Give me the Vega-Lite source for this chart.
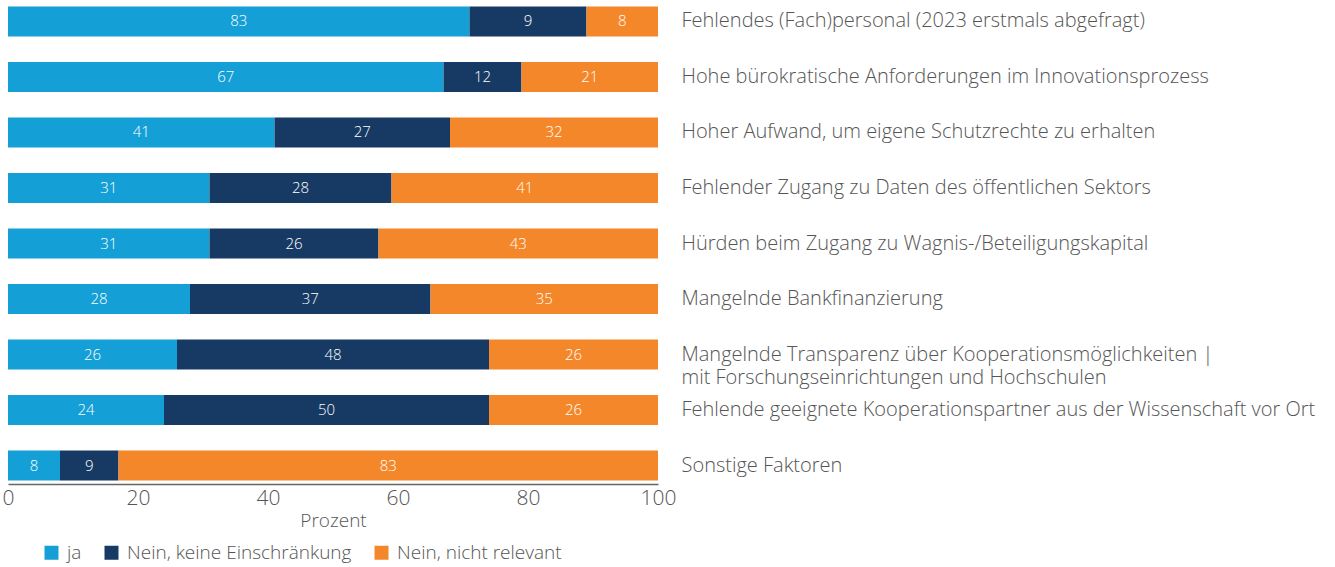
{
  "$schema": "https://vega.github.io/schema/vega-lite/v6.json",
  "width": 650,
  "height": 481,
  "autosize": {"type": "none"},
  "padding": {"left": 8, "top": 3, "right": 677, "bottom": 83},
  "background": "white",
  "config": {"view": {"stroke": null}, "font": "Open Sans"},
  "data": {"values": [
    {"cat": "Fehlendes (Fach)personal (2023 erstmals abgefragt)", "answer": "ja", "k": 1, "pct": 71, "label": "83"},
    {"cat": "Fehlendes (Fach)personal (2023 erstmals abgefragt)", "answer": "Nein, keine Einschränkung", "k": 2, "pct": 18, "label": "9"},
    {"cat": "Fehlendes (Fach)personal (2023 erstmals abgefragt)", "answer": "Nein, nicht relevant", "k": 3, "pct": 11, "label": "8"},
    {"cat": "Hohe bürokratische Anforderungen im Innovationsprozess", "answer": "ja", "k": 1, "pct": 67, "label": "67"},
    {"cat": "Hohe bürokratische Anforderungen im Innovationsprozess", "answer": "Nein, keine Einschränkung", "k": 2, "pct": 12, "label": "12"},
    {"cat": "Hohe bürokratische Anforderungen im Innovationsprozess", "answer": "Nein, nicht relevant", "k": 3, "pct": 21, "label": "21"},
    {"cat": "Hoher Aufwand, um eigene Schutzrechte zu erhalten", "answer": "ja", "k": 1, "pct": 41, "label": "41"},
    {"cat": "Hoher Aufwand, um eigene Schutzrechte zu erhalten", "answer": "Nein, keine Einschränkung", "k": 2, "pct": 27, "label": "27"},
    {"cat": "Hoher Aufwand, um eigene Schutzrechte zu erhalten", "answer": "Nein, nicht relevant", "k": 3, "pct": 32, "label": "32"},
    {"cat": "Fehlender Zugang zu Daten des öffentlichen Sektors", "answer": "ja", "k": 1, "pct": 31, "label": "31"},
    {"cat": "Fehlender Zugang zu Daten des öffentlichen Sektors", "answer": "Nein, keine Einschränkung", "k": 2, "pct": 28, "label": "28"},
    {"cat": "Fehlender Zugang zu Daten des öffentlichen Sektors", "answer": "Nein, nicht relevant", "k": 3, "pct": 41, "label": "41"},
    {"cat": "Hürden beim Zugang zu Wagnis-/Beteiligungskapital", "answer": "ja", "k": 1, "pct": 31, "label": "31"},
    {"cat": "Hürden beim Zugang zu Wagnis-/Beteiligungskapital", "answer": "Nein, keine Einschränkung", "k": 2, "pct": 26, "label": "26"},
    {"cat": "Hürden beim Zugang zu Wagnis-/Beteiligungskapital", "answer": "Nein, nicht relevant", "k": 3, "pct": 43, "label": "43"},
    {"cat": "Mangelnde Bankfinanzierung", "answer": "ja", "k": 1, "pct": 28, "label": "28"},
    {"cat": "Mangelnde Bankfinanzierung", "answer": "Nein, keine Einschränkung", "k": 2, "pct": 37, "label": "37"},
    {"cat": "Mangelnde Bankfinanzierung", "answer": "Nein, nicht relevant", "k": 3, "pct": 35, "label": "35"},
    {"cat": "Mangelnde Transparenz über Kooperationsmöglichkeiten |\nmit Forschungseinrichtungen und Hochschulen", "answer": "ja", "k": 1, "pct": 26, "label": "26"},
    {"cat": "Mangelnde Transparenz über Kooperationsmöglichkeiten |\nmit Forschungseinrichtungen und Hochschulen", "answer": "Nein, keine Einschränkung", "k": 2, "pct": 48, "label": "48"},
    {"cat": "Mangelnde Transparenz über Kooperationsmöglichkeiten |\nmit Forschungseinrichtungen und Hochschulen", "answer": "Nein, nicht relevant", "k": 3, "pct": 26, "label": "26"},
    {"cat": "Fehlende geeignete Kooperationspartner aus der Wissenschaft vor Ort", "answer": "ja", "k": 1, "pct": 24, "label": "24"},
    {"cat": "Fehlende geeignete Kooperationspartner aus der Wissenschaft vor Ort", "answer": "Nein, keine Einschränkung", "k": 2, "pct": 50, "label": "50"},
    {"cat": "Fehlende geeignete Kooperationspartner aus der Wissenschaft vor Ort", "answer": "Nein, nicht relevant", "k": 3, "pct": 26, "label": "26"},
    {"cat": "Sonstige Faktoren", "answer": "ja", "k": 1, "pct": 8, "label": "8"},
    {"cat": "Sonstige Faktoren", "answer": "Nein, keine Einschränkung", "k": 2, "pct": 9, "label": "9"},
    {"cat": "Sonstige Faktoren", "answer": "Nein, nicht relevant", "k": 3, "pct": 83, "label": "83"}
  ]},
  "transform": [
    {"stack": "pct", "groupby": ["cat"], "sort": [{"field": "k", "order": "ascending"}], "as": ["v0", "v1"]}
  ],
  "encoding": {
    "y": {
      "field": "cat", "type": "nominal", "sort": null,
      "scale": {"paddingInner": 0.46, "paddingOuter": 0.063},
      "axis": {
        "orient": "right", "title": null, "domain": false, "ticks": false,
        "labelAlign": "left", "labelPadding": 23, "labelFontSize": 20, "labelFontWeight": 300,
        "labelColor": "#555555", "labelLimit": 700, "labelLineHeight": 23,
        "labelExpr": "split(datum.label, '\\n')"
      }
    }
  },
  "layer": [
    {
      "mark": {"type": "bar"},
      "encoding": {
        "x": {
          "field": "v0", "type": "quantitative",
          "scale": {"domain": [0, 100], "nice": false},
          "axis": {
            "values": [0, 20, 40, 60, 80, 100], "grid": false, "ticks": false,
            "domainColor": "#666666", "domainWidth": 1.5,
            "labelFontSize": 21, "labelFontWeight": 300, "labelColor": "#555555", "labelPadding": 3,
            "labelFlush": false,
            "title": "Prozent", "titleFontSize": 19, "titleFontWeight": 300,
            "titleColor": "#555555", "titlePadding": 3
          }
        },
        "x2": {"field": "v1"},
        "color": {
          "field": "answer", "type": "nominal",
          "scale": {
            "domain": ["ja", "Nein, keine Einschränkung", "Nein, nicht relevant"],
            "range": ["#149fd6", "#163a64", "#f5872b"]
          },
          "legend": {
            "orient": "none", "legendX": 34, "legendY": 540, "direction": "horizontal",
            "title": null, "symbolType": "square", "symbolSize": 196,
            "symbolStrokeWidth": 0, "labelFontSize": 19, "labelFontWeight": 300, "labelColor": "#555555",
            "labelLimit": 400, "columnPadding": 20, "labelOffset": 6
          }
        }
      }
    },
    {
      "transform": [
        {"fold": ["v0", "v1"], "as": ["edge", "pos"]}
      ],
      "mark": {"type": "text", "color": "white", "fontSize": 15, "fontWeight": 300, "baseline": "middle", "align": "center"},
      "encoding": {
        "x": {"field": "pos", "type": "quantitative", "aggregate": "mean"},
        "text": {"field": "label"},
        "detail": {"field": "answer"}
      }
    },
    {
      "mark": {"type": "rule", "color": "#666666", "strokeWidth": 1.5},
      "encoding": {"x": {"datum": 0}}
    }
  ]
}
